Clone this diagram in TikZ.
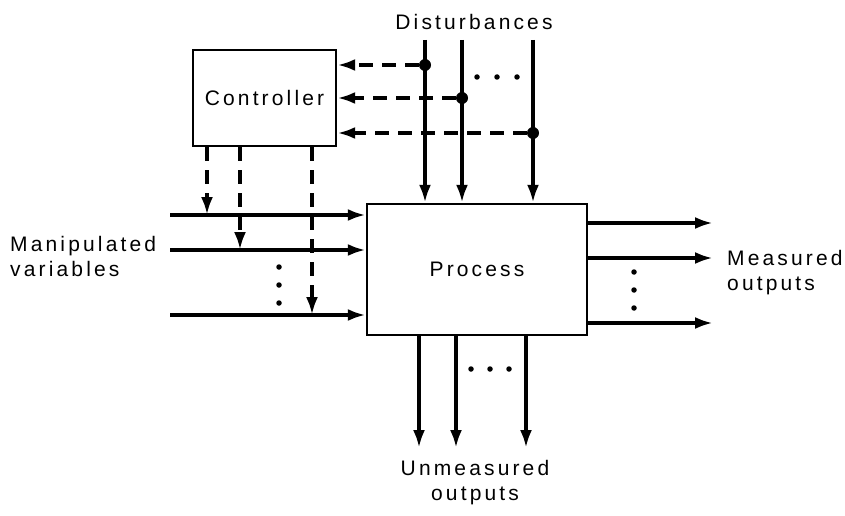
\documentclass[tikz,border=0pt]{standalone}
\usepackage{fontspec}
\setmainfont{Liberation Sans}[LetterSpace=15]
\usetikzlibrary{arrows.meta}
\begin{document}
\begin{tikzpicture}[x=1pt,y=-1pt,
  sig/.style={line width=3.6pt, -{Latex[length=18pt,width=12pt]}},
  dsig/.style={sig, dash pattern=on 14pt off 9pt},
  box/.style={draw, line width=2.4pt, inner sep=0pt},
  txt/.style={font=\fontsize{21}{25}\selectfont},
  lbl/.style={txt, align=left, inner sep=0pt},
  jdot/.style={circle, fill, inner sep=0pt, minimum size=12pt},
  ell/.style={circle, fill, inner sep=0pt, minimum size=5.5pt}]
\useasboundingbox (0,0) rectangle (845,516);
% boxes
\node[box, txt, minimum width=143pt, minimum height=96pt] (ctrl) at (264.5,98) {Controller};
\node[box, txt, minimum width=220pt, minimum height=131pt] (proc) at (477,269.5) {Process};
% labels
\node[lbl, anchor=south] (ldist) at (474,30) {Disturbances};
\node[lbl, anchor=west] (lman) at (10,256) {Manipulated\\variables};
\node[lbl, anchor=west] (lmeas) at (727,273) {Measured\\outputs};
\node[lbl, anchor=north, align=center] (lunm) at (475,460) {Unmeasured\\outputs};
% disturbances
\coordinate (d1) at (425,40);
\coordinate (d2) at (462,40);
\coordinate (d3) at (533,40);
\draw[sig] (d1) -- (d1 |- proc.north);
\draw[sig] (d2) -- (d2 |- proc.north);
\draw[sig] (d3) -- (d3 |- proc.north);
\node[jdot] (j1) at (425,65) {};
\node[jdot] (j2) at (462,98) {};
\node[jdot] (j3) at (533,133) {};
\draw[dsig] (j1) -- (j1 -| ctrl.east);
\draw[dsig] (j2) -- (j2 -| ctrl.east);
\draw[dsig] (j3) -- (j3 -| ctrl.east);
\node[ell] (e1) at (477,77) {};
\node[ell] (e2) at (497,77) {};
\node[ell] (e3) at (517,77) {};
% manipulated variables
\coordinate (m1) at (170,215);
\coordinate (m2) at (170,250);
\coordinate (m3) at (170,315);
\draw[sig] (m1) -- (m1 -| proc.west);
\draw[sig] (m2) -- (m2 -| proc.west);
\draw[sig] (m3) -- (m3 -| proc.west);
\coordinate (c1) at (207,146);
\coordinate (c2) at (240,146);
\coordinate (c3) at (312,146);
\draw[dsig] (c1 |- ctrl.south) -- (c1 |- m1);
\draw[dsig] (c2 |- ctrl.south) -- (c2 |- m2);
\draw[dsig] (c3 |- ctrl.south) -- (c3 |- m3);
\node[ell] (e4) at (279,267) {};
\node[ell] (e5) at (279,285) {};
\node[ell] (e6) at (279,303) {};
% measured outputs
\coordinate (o1) at (713,223);
\coordinate (o2) at (713,258);
\coordinate (o3) at (713,323);
\draw[sig] (o1 -| proc.east) -- (o1);
\draw[sig] (o2 -| proc.east) -- (o2);
\draw[sig] (o3 -| proc.east) -- (o3);
\node[ell] (e7) at (634,272) {};
\node[ell] (e8) at (634,290) {};
\node[ell] (e9) at (634,308) {};
% unmeasured outputs
\coordinate (u1) at (419,448);
\coordinate (u2) at (456,448);
\coordinate (u3) at (526,448);
\draw[sig] (u1 |- proc.south) -- (u1);
\draw[sig] (u2 |- proc.south) -- (u2);
\draw[sig] (u3 |- proc.south) -- (u3);
\node[ell] (e10) at (471,369) {};
\node[ell] (e11) at (490,369) {};
\node[ell] (e12) at (509,369) {};
\end{tikzpicture}
\end{document}
